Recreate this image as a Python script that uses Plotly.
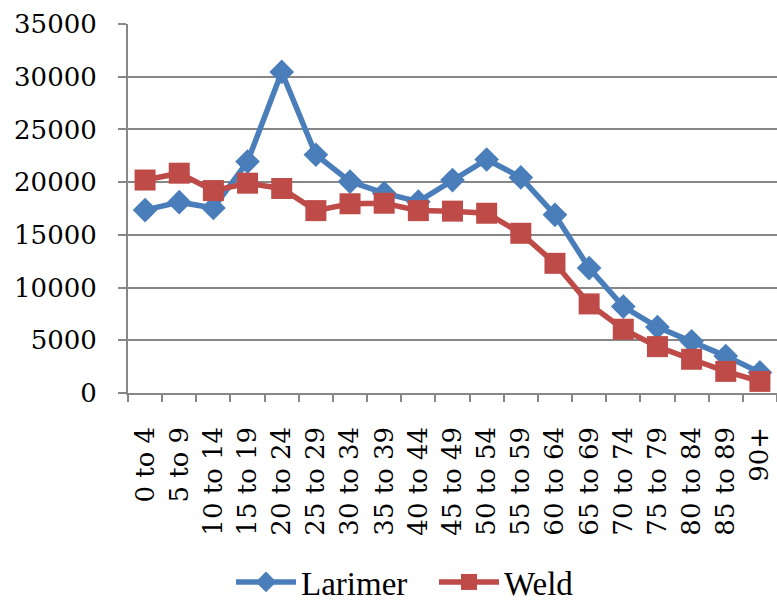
import plotly.graph_objects as go

categories = ["0 to 4", "5 to 9", "10 to 14", "15 to 19", "20 to 24", "25 to 29",
              "30 to 34", "35 to 39", "40 to 44", "45 to 49", "50 to 54", "55 to 59",
              "60 to 64", "65 to 69", "70 to 74", "75 to 79", "80 to 84", "85 to 89", "90+"]
larimer = [17350, 18100, 17550, 21950, 30450, 22600, 20050, 18950, 18150, 20200,
           22150, 20450, 16900, 11850, 8200, 6250, 4900, 3500, 1950]
weld = [20200, 20850, 19200, 19900, 19400, 17300, 17950, 18000, 17300, 17250,
        17050, 15150, 12300, 8450, 6050, 4400, 3200, 2050, 1100]
y_ticks = [0, 5000, 10000, 15000, 20000, 25000, 30000, 35000]

blue = "#4A7EBB"
red = "#BE4B48"
gray = "#878787"

# non-breaking + thin space keep the rotated labels clear of the axis, as in the reference
x_labels = [c + "\u00a0\u2009" for c in categories]

fig = go.Figure()
fig.add_trace(go.Scatter(
    x=categories, y=larimer, name="Larimer", mode="lines+markers",
    line=dict(color=blue, width=5.5),
    marker=dict(symbol="diamond", size=19, color=blue),
))
fig.add_trace(go.Scatter(
    x=categories, y=weld, name="Weld", mode="lines+markers",
    line=dict(color=red, width=5.5),
    marker=dict(symbol="square", size=21, color=red),
))
# helper trace (no marks) so the overlay axis that draws the boundary tick marks knows the categories
fig.add_trace(go.Scatter(
    x=categories, y=[None] * len(categories), xaxis="x2", mode="lines",
    showlegend=False, hoverinfo="skip",
))

tickfont = dict(family="DejaVu Serif", size=26, color="black")

fig.update_layout(
    width=777, height=610,
    margin=dict(l=128, r=0, t=24, b=217),
    paper_bgcolor="white", plot_bgcolor="white",
    showlegend=True,
    legend=dict(
        orientation="h", xref="container", yref="container",
        x=231 / 777, xanchor="left", y=-0.008, yanchor="bottom",
        font=dict(family="Liberation Serif", size=33, color="black"),
        itemwidth=60, tracegroupgap=0,
        entrywidth=128, entrywidthmode="pixels",
    ),
    xaxis=dict(
        type="category", range=[-0.5, 18.5],
        tickmode="array", tickvals=categories, ticktext=x_labels,
        ticks="outside", ticklen=8, tickcolor="rgba(0,0,0,0)",
        showline=True, linecolor=gray, linewidth=2,
        showgrid=False, tickangle=-90, tickfont=tickfont,
        zeroline=False,
    ),
    xaxis2=dict(
        type="category", range=[-0.5, 18.5], tickson="boundaries",
        overlaying="x", anchor="y", side="bottom",
        ticks="outside", ticklen=8, tickwidth=2, tickcolor=gray,
        showline=False, showgrid=False, showticklabels=False, zeroline=False,
    ),
    yaxis=dict(
        range=[0, 35000], tickvals=y_ticks, ticktext=[str(v) for v in y_ticks],
        ticks="outside", ticklen=8, tickwidth=2, tickcolor=gray,
        showline=True, linecolor=gray, linewidth=2,
        showgrid=True, gridcolor=gray, gridwidth=2,
        zeroline=False, tickfont=tickfont, ticklabelstandoff=16,
    ),
)

fig.write_html(
    "out.html",
    config={"displayModeBar": False},
    post_script="document.body.style.margin='0';document.body.style.overflow='hidden';",
)
